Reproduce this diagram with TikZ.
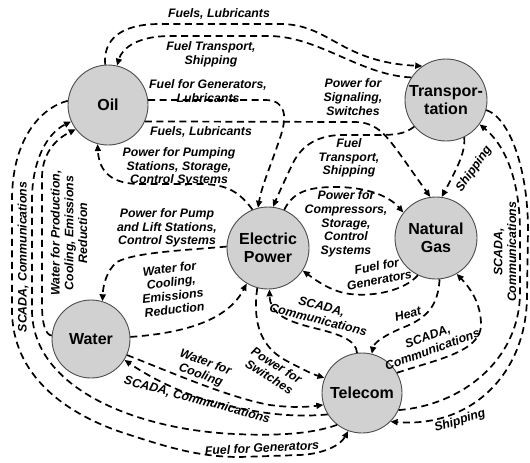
\documentclass[tikz,border=0pt]{standalone}
\usepackage{fontspec}
\setmainfont{Liberation Sans}
\usetikzlibrary{arrows.meta}

\tikzset{
  infra/.style={circle, draw=black!70, line width=0.9pt, fill=black!18,
    minimum size=80pt, inner sep=0pt, align=center,
    font=\fontsize{16}{17.5}\selectfont\bfseries},
  link/.style={line width=1.7pt, dash pattern=on 7pt off 4.5pt,
    -{Triangle[length=7pt,width=6pt]}},
  lbl/.style={font=\fontsize{12.3}{13.8}\selectfont\bfseries\itshape,
    align=center, inner sep=0pt},
}

\begin{document}
\begin{tikzpicture}[x=1pt,y=-1pt]
\useasboundingbox (0,0) rectangle (530,463);

% infrastructures
\node[infra] (oil) at (108,105) {Oil};
\node[infra, minimum size=82pt] (trans) at (446,100) {Transpor-\\tation};
\node[infra, minimum size=82pt] (gas) at (436,238) {Natural\\Gas};
\node[infra, minimum size=82pt] (ep) at (268,248) {Electric\\Power};
\node[infra, minimum size=78pt] (water) at (91,339) {Water};
\node[infra] (tel) at (362,393) {Telecom};

% oil and transportation
\draw[link] (oil.94) .. controls (103,40) and (120,24) .. (160,24) -- (280,24)
  .. controls (330,24) and (340,62) .. (trans.125);
\draw[link] (trans.147) .. controls (360,75) and (320,37) .. (270,36) -- (170,36)
  .. controls (138,36) and (122,48) .. (oil.77);

% oil and electric power
\draw[link] (oil.7) -- (265,100) .. controls (287,100) and (287,118) .. (280,138)
  .. controls (270,168) and (262,185) .. (ep.104);
\draw[link] (ep.112) .. controls (240,193) and (228,184) .. (200,184) -- (140,184)
  .. controls (112,184) and (99,172) .. (oil.-105);

% oil to natural gas
\draw[link] (oil.-24) -- (355,122) .. controls (378,122) and (388,138) .. (402,157)
  -- (gas.98);

% electric power and natural gas
\draw[link] (ep.67) .. controls (293,192) and (308,187) .. (335,187)
  .. controls (365,187) and (388,195) .. (gas.142);
\draw[link] (gas.-116) .. controls (405,290) and (375,297) .. (350,294)
  .. controls (333,292) and (318,282) .. (ep.-33);

% transportation links
\draw[link] (trans.-140) .. controls (405,134) and (395,135) .. (378,135) -- (340,135)
  .. controls (314,136) and (300,148) .. (292,165)
  .. controls (284,182) and (278,195) .. (ep.83);
\draw[link] (trans.-64) .. controls (466,152) and (456,170) .. (gas.82);
\draw[link] (trans.-14) .. controls (510,118) and (528,170) .. (528,230) -- (527,295)
  .. controls (527,375) and (470,428) .. (tel.-45);
\draw[link] (tel.-25) .. controls (462,405) and (520,360) .. (520,292) -- (520,232)
  .. controls (520,180) and (505,145) .. (trans.-36);

% telecom and natural gas
\draw[link] (tel.30) .. controls (435,360) and (481,352) .. (481,325)
  .. controls (481,305) and (472,290) .. (gas.-60);
\draw[link] (gas.-85) .. controls (438,305) and (428,318) .. (402,328)
  .. controls (383,336) and (374,343) .. (tel.76);

% telecom and electric power
\draw[link] (tel.97) .. controls (356,340) and (340,334) .. (310,327)
  .. controls (283,320) and (270,312) .. (ep.-88);
\draw[link] (ep.-105) .. controls (253,318) and (258,345) .. (285,360)
  .. controls (300,368) and (312,374) .. (tel.158);

% water and electric power
\draw[link] (water.3) .. controls (185,333) and (228,320) .. (ep.-121);
\draw[link] (ep.178) .. controls (190,250) and (135,252) .. (117,262)
  .. controls (107,270) and (103,285) .. (water.73);

% water and telecom
\draw[link] (water.-24) .. controls (170,372) and (230,398) .. (270,405)
  .. controls (292,408) and (308,407) .. (tel.-163);
\draw[link] (tel.-148) .. controls (290,418) and (250,413) .. (200,398)
  .. controls (170,388) and (145,374) .. (water.-32);

% long links on the left
\draw[link] (oil.174) .. controls (40,108) and (12,140) .. (12,200) -- (12,310)
  .. controls (12,375) and (65,415) .. (130,435)
  .. controls (170,448) and (200,457) .. (240,457) -- (300,455)
  .. controls (322,454) and (340,446) .. (tel.-110);
\draw[link] (tel.-128) .. controls (312,434) and (275,436) .. (235,434)
  .. controls (140,430) and (32,390) .. (32,310) -- (32,200)
  .. controls (32,162) and (46,134) .. (oil.-156);
\draw[link] (water.175) .. controls (46,335) and (42,325) .. (42,305) -- (42,178)
  .. controls (42,155) and (54,140) .. (oil.-143);

% labels
\node[lbl] (l1) at (219,14) {Fuels, Lubricants};
\node[lbl] (l2) at (211,54) {Fuel Transport,\\Shipping};
\node[lbl] (l3) at (208,91) {Fuel for Generators,\\Lubricants};
\node[lbl] (l4) at (201,132) {Fuels, Lubricants};
\node[lbl] (l5) at (179,167) {Power for Pumping\\Stations, Storage,\\Control Systems};
\node[lbl] (l6) at (353,97) {Power for\\Signaling,\\Switches};
\node[lbl] (l7) at (349,158) {Fuel\\Transport,\\Shipping};
\node[lbl] (l8) at (346,224) {Power for\\Compressors,\\Storage,\\Control\\Systems};
\node[lbl, rotate=11] (l9) at (378,273) {Fuel for\\Generators};
\node[lbl, rotate=55] (l10) at (474,169) {Shipping};
\node[lbl, rotate=90] (l11) at (505,252) {SCADA,\\Communications};
\node[lbl, rotate=15] (l12) at (408,314) {Heat};
\node[lbl, rotate=20] (l13) at (430,343) {SCADA,\\Communications};
\node[lbl, rotate=-14] (l14) at (320,313) {SCADA,\\Communications};
\node[lbl, rotate=-32] (l15) at (273,371) {Power for\\Switches};
\node[lbl, rotate=-20] (l16) at (203,369) {Water for\\Cooling};
\node[lbl, rotate=-15] (l17) at (197,400) {SCADA, Communications};
\node[lbl, rotate=3] (l18) at (262,448) {Fuel for Generators};
\node[lbl, rotate=17] (l19) at (460,421) {Shipping};
\node[lbl, rotate=90] (l20) at (23,257) {SCADA, Communications};
\node[lbl, rotate=90] (l21) at (69,233) {Water for Production,\\Cooling, Emissions\\Reduction};
\node[lbl] (l22) at (167,228) {Power for Pump\\and Lift Stations,\\Control Systems};
\node[lbl, rotate=7] (l23) at (172,289) {Water for\\Cooling,\\Emissions\\Reduction};
\end{tikzpicture}
\end{document}
